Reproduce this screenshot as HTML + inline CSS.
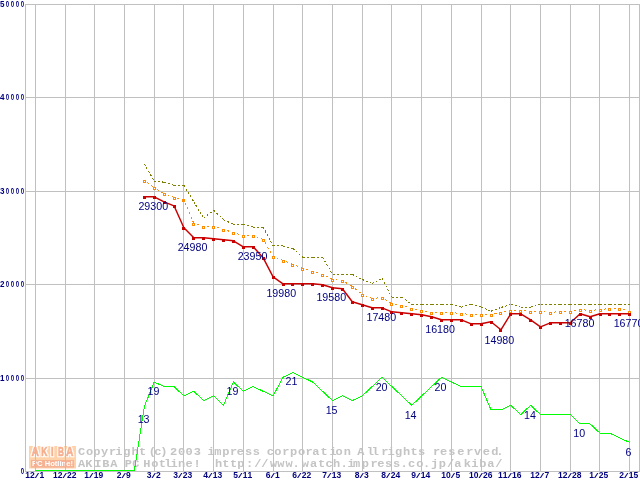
<!DOCTYPE html><html><head><meta charset="utf-8"><title>chart</title><style>html,body{margin:0;padding:0;background:#fff}svg{display:block}</style></head><body>
<svg width="640" height="480" viewBox="0 0 640 480">
<rect width="640" height="480" fill="#fff"/>
<g id="logo">
<rect x="29" y="446" width="47" height="22.5" fill="#ffd2aa"/>
<rect x="31" y="460" width="43" height="7.6" fill="#f6b294"/>
<filter id="ol" x="-20%" y="-20%" width="140%" height="140%"><feMorphology in="SourceAlpha" operator="dilate" radius="1" result="d"/><feFlood flood-color="#fff"/><feComposite in2="d" operator="in" result="w"/><feMerge><feMergeNode in="w"/><feMergeNode in="SourceGraphic"/></feMerge></filter>
<g filter="url(#ol)" font-family="'Liberation Sans',sans-serif" font-weight="bold" font-size="13.6" fill="#f6ae8c" stroke="#f6ae8c" stroke-width="0.7" stroke-linejoin="miter">
<text x="31.6" y="456.4" textLength="7.4" lengthAdjust="spacingAndGlyphs">A</text>
<text x="41.2" y="456.4" textLength="6.2" lengthAdjust="spacingAndGlyphs">K</text>
<text x="50.9" y="456.4" textLength="2.6" lengthAdjust="spacingAndGlyphs">I</text>
<text x="57.9" y="456.4" textLength="5.9" lengthAdjust="spacingAndGlyphs">B</text>
<text x="66.1" y="456.4" textLength="7.4" lengthAdjust="spacingAndGlyphs">A</text>
</g>
<text x="32" y="466.3" font-family="'Liberation Sans',sans-serif" font-weight="bold" font-size="7" fill="#fff" textLength="41" lengthAdjust="spacingAndGlyphs">PC Hotline!</text>
</g>
<g transform="scale(1.2,1)" font-family="'Liberation Mono',monospace" font-weight="bold" font-size="10" fill="#c4c4c4">
<text x="65.08 71.62 77.78 84.12 90.91 96.00 102.78 109.66 115.91 124.00 128.62 133.50 141.62 148.41 154.66 161.45" y="454.8">Copyright(c)2003</text>
<text x="172.83 178.62 185.28 191.62 197.37 204.12 210.70" y="454.8">impress</text>
<text x="222.37 228.62 235.28 241.62 248.41 254.66 260.28 267.16 274.67 279.66 286.45" y="454.8">corporation</text>
<text x="297.78 305.58 309.75" y="454.8">All</text>
<text x="317.70 323.00 329.12 335.91 342.16 348.41" y="454.8">rights</text>
<text x="360.91 366.78 373.45 381.12 388.45 395.03 402.20 409.37 413.46" y="454.8">reserved.</text>
<text x="65.08 71.12 78.50 85.20 91.95" y="466.8">AKIBA</text>
<text x="103.95 110.28" y="466.8">PC</text>
<text x="119.45 126.03 132.28 136.83 142.00 148.41 154.66 161.33" y="466.8">Hotline!</text>
<text y="466.8"><tspan x="179.12 185.28 191.62 197.78">http</tspan><tspan x="205.08 211.95 217.78 224.95 231.12 237.99 243.67 251.53 258.28 265.07 271.32 277.57 283.67 289.50 294.24 301.53 308.82 314.45 320.78 327.57 333.67 340.07 346.87 352.42 359.08 365.62 372.45 378.62 386.53 392.62 399.45 406.12 412.62">://www.watch.impress.co.jp/akiba/</tspan></text>
</g>
<g fill="#c0c0c0" shape-rendering="crispEdges">
<rect x="25" y="4" width="1" height="468"/>
<rect x="639" y="4" width="1" height="468"/>
<rect x="35" y="4" width="1" height="468"/>
<rect x="65" y="4" width="1" height="468"/>
<rect x="94" y="4" width="1" height="468"/>
<rect x="124" y="4" width="1" height="468"/>
<rect x="154" y="4" width="1" height="468"/>
<rect x="183" y="4" width="1" height="468"/>
<rect x="213" y="4" width="1" height="468"/>
<rect x="243" y="4" width="1" height="468"/>
<rect x="273" y="4" width="1" height="468"/>
<rect x="302" y="4" width="1" height="468"/>
<rect x="332" y="4" width="1" height="468"/>
<rect x="362" y="4" width="1" height="468"/>
<rect x="391" y="4" width="1" height="468"/>
<rect x="421" y="4" width="1" height="468"/>
<rect x="451" y="4" width="1" height="468"/>
<rect x="481" y="4" width="1" height="468"/>
<rect x="510" y="4" width="1" height="468"/>
<rect x="540" y="4" width="1" height="468"/>
<rect x="570" y="4" width="1" height="468"/>
<rect x="599" y="4" width="1" height="468"/>
<rect x="629" y="4" width="1" height="468"/>
<rect x="25" y="4" width="615" height="1"/>
<rect x="25" y="97" width="615" height="1"/>
<rect x="25" y="191" width="615" height="1"/>
<rect x="25" y="284" width="615" height="1"/>
<rect x="25" y="378" width="615" height="1"/>
<rect x="25" y="471" width="615" height="1"/>
</g>
<polyline fill="none" stroke="#00ff00" stroke-width="1" shape-rendering="crispEdges" points="35.3,470.5 45.2,470.5 55.1,470.5 65.0,470.5 74.9,470.5 84.8,470.5 94.7,470.5 104.6,470.5 114.6,470.5 124.5,470.5 134.4,470.5 144.3,406.7 154.2,382.0 164.1,386.6 174.0,386.6 183.9,395.9 193.8,391.3 203.7,400.6 213.6,395.9 223.5,405.3 233.4,382.0 243.3,391.3 253.2,386.6 263.2,391.3 273.1,395.9 283.0,377.3 292.9,372.6 302.8,377.3 312.7,382.0 322.6,391.3 332.5,400.6 342.4,395.9 352.3,400.6 362.2,395.9 372.1,386.6 382.0,377.3 391.9,386.6 401.8,395.9 411.8,405.3 421.7,395.9 431.6,386.6 441.5,377.3 451.4,382.0 461.3,386.6 471.2,386.6 481.1,386.6 491.0,409.9 500.9,409.9 510.8,405.3 520.7,414.6 530.6,405.3 540.5,414.6 550.4,414.6 560.4,414.6 570.3,414.6 580.2,423.9 590.1,423.9 600.0,433.2 609.9,433.2 619.8,437.9 629.7,442.5"/>
<path fill="none" stroke="#808000" stroke-width="1" stroke-dasharray="2 2" shape-rendering="crispEdges" d="M144.3,164.1L154.2,181.0M154.2,181.0L164.1,182.2M164.1,182.2L174.0,185.4M174.0,185.4L183.9,185.4M183.9,185.4L193.8,201.8M193.8,201.8L203.7,218.1M203.7,218.1L213.6,210.2M213.6,210.2L223.5,219.6M223.5,219.6L233.4,224.3M233.4,224.3L243.3,224.3M243.3,224.3L253.2,227.1M253.2,227.1L263.2,227.1M263.2,227.1L273.1,245.9M273.1,245.9L283.0,245.9M283.0,245.9L292.9,248.5M292.9,248.5L302.8,257.2M302.8,257.2L312.7,257.2M312.7,257.2L322.6,257.2M322.6,257.2L332.5,274.4M332.5,274.4L342.4,274.4M342.4,274.4L352.3,274.4M352.3,274.4L362.2,279.5M362.2,279.5L372.1,283.4M372.1,283.4L382.0,278.5M382.0,278.5L391.9,297.2M391.9,297.2L401.8,297.2M401.8,297.2L411.8,304.4M411.8,304.4L421.7,304.4M421.7,304.4L431.6,304.4M431.6,304.4L441.5,304.4M441.5,304.4L451.4,304.4M451.4,304.4L461.3,307.1M461.3,307.1L471.2,304.4M471.2,304.4L481.1,307.1M481.1,307.1L491.0,311.2M491.0,311.2L500.9,307.5M500.9,307.5L510.8,304.4M510.8,304.4L520.7,307.1M520.7,307.1L530.6,307.1M530.6,307.1L540.5,304.4M540.5,304.4L550.4,304.4M550.4,304.4L560.4,304.4M560.4,304.4L570.3,304.4M570.3,304.4L580.2,304.4M580.2,304.4L590.1,304.4M590.1,304.4L600.0,304.4M600.0,304.4L609.9,304.4M609.9,304.4L619.8,304.4M619.8,304.4L629.7,304.4"/>
<path fill="none" stroke="#ff8c00" stroke-width="1" stroke-dasharray="2 3" stroke-dashoffset="1.4" shape-rendering="crispEdges" d="M144.3,180.5L154.2,187.5M154.2,187.5L164.1,193.5M164.1,193.5L174.0,197.5M174.0,197.5L183.9,199.5M183.9,199.5L193.8,223.5M193.8,223.5L203.7,226.5M203.7,226.5L213.6,226.5M213.6,226.5L223.5,229.5M223.5,229.5L233.4,232.5M233.4,232.5L243.3,235.5M243.3,235.5L253.2,235.5M253.2,235.5L263.2,239.5M263.2,239.5L273.1,256.5M273.1,256.5L283.0,260.5M283.0,260.5L292.9,264.5M292.9,264.5L302.8,268.5M302.8,268.5L312.7,271.5M312.7,271.5L322.6,274.5M322.6,274.5L332.5,279.5M332.5,279.5L342.4,280.5M342.4,280.5L352.3,286.5M352.3,286.5L362.2,294.5M362.2,294.5L372.1,298.5M372.1,298.5L382.0,297.5M382.0,297.5L391.9,303.5M391.9,303.5L401.8,305.5M401.8,305.5L411.8,308.5M411.8,308.5L421.7,310.5M421.7,310.5L431.6,312.5M431.6,312.5L441.5,312.5M441.5,312.5L451.4,312.5M451.4,312.5L461.3,313.5M461.3,313.5L471.2,314.5M471.2,314.5L481.1,314.5M481.1,314.5L491.0,314.5M491.0,314.5L500.9,312.5M500.9,312.5L510.8,310.5M510.8,310.5L520.7,310.5M520.7,310.5L530.6,311.5M530.6,311.5L540.5,311.5M540.5,311.5L550.4,312.5M550.4,312.5L560.4,311.5M560.4,311.5L570.3,311.5M570.3,311.5L580.2,309.5M580.2,309.5L590.1,310.5M590.1,310.5L600.0,309.5M600.0,309.5L609.9,308.5M609.9,308.5L619.8,308.5M619.8,308.5L629.7,311.5"/>
<g fill="#fff" stroke="#ff8c00" stroke-width="1" shape-rendering="crispEdges">
<rect x="143.5" y="180.5" width="2" height="2"/>
<rect x="153.5" y="187.5" width="2" height="2"/>
<rect x="163.5" y="193.5" width="2" height="2"/>
<rect x="173.5" y="197.5" width="2" height="2"/>
<rect x="182.5" y="199.5" width="2" height="2" fill="#ff8c00"/>
<rect x="192.5" y="223.5" width="2" height="2"/>
<rect x="202.5" y="226.5" width="2" height="2"/>
<rect x="212.5" y="226.5" width="2" height="2"/>
<rect x="222.5" y="229.5" width="2" height="2"/>
<rect x="232.5" y="232.5" width="2" height="2"/>
<rect x="242.5" y="235.5" width="2" height="2"/>
<rect x="252.5" y="235.5" width="2" height="2"/>
<rect x="262.5" y="239.5" width="2" height="2"/>
<rect x="272.5" y="256.5" width="2" height="2"/>
<rect x="282.5" y="260.5" width="2" height="2"/>
<rect x="291.5" y="264.5" width="2" height="2"/>
<rect x="301.5" y="268.5" width="2" height="2"/>
<rect x="311.5" y="271.5" width="2" height="2"/>
<rect x="321.5" y="274.5" width="2" height="2"/>
<rect x="331.5" y="279.5" width="2" height="2"/>
<rect x="341.5" y="280.5" width="2" height="2"/>
<rect x="351.5" y="286.5" width="2" height="2"/>
<rect x="361.5" y="294.5" width="2" height="2"/>
<rect x="371.5" y="298.5" width="2" height="2"/>
<rect x="381.5" y="297.5" width="2" height="2"/>
<rect x="390.5" y="303.5" width="2" height="2"/>
<rect x="400.5" y="305.5" width="2" height="2"/>
<rect x="410.5" y="308.5" width="2" height="2"/>
<rect x="420.5" y="310.5" width="2" height="2"/>
<rect x="430.5" y="312.5" width="2" height="2"/>
<rect x="440.5" y="312.5" width="2" height="2"/>
<rect x="450.5" y="312.5" width="2" height="2"/>
<rect x="460.5" y="313.5" width="2" height="2"/>
<rect x="470.5" y="314.5" width="2" height="2"/>
<rect x="480.5" y="314.5" width="2" height="2"/>
<rect x="490.5" y="314.5" width="2" height="2"/>
<rect x="499.5" y="312.5" width="2" height="2"/>
<rect x="509.5" y="310.5" width="2" height="2"/>
<rect x="519.5" y="310.5" width="2" height="2"/>
<rect x="529.5" y="311.5" width="2" height="2"/>
<rect x="539.5" y="311.5" width="2" height="2"/>
<rect x="549.5" y="312.5" width="2" height="2"/>
<rect x="559.5" y="311.5" width="2" height="2"/>
<rect x="569.5" y="311.5" width="2" height="2"/>
<rect x="579.5" y="309.5" width="2" height="2"/>
<rect x="589.5" y="310.5" width="2" height="2"/>
<rect x="599.5" y="309.5" width="2" height="2"/>
<rect x="608.5" y="308.5" width="2" height="2"/>
<rect x="618.5" y="308.5" width="2" height="2"/>
<rect x="628.5" y="311.5" width="2" height="2"/>
</g>
<polyline fill="none" stroke="#c80000" stroke-width="1.45" stroke-linejoin="round" points="144.3,196.8 154.2,196.8 164.1,201.8 174.0,205.8 183.9,227.8 193.8,237.8 203.7,237.8 213.6,238.8 223.5,239.8 233.4,240.8 243.3,246.8 253.2,246.8 263.2,257.8 273.1,276.8 283.0,283.8 292.9,283.8 302.8,283.8 312.7,283.8 322.6,284.8 332.5,287.8 342.4,288.8 352.3,301.8 362.2,304.8 372.1,307.8 382.0,307.8 391.9,311.8 401.8,312.8 411.8,313.8 421.7,314.8 431.6,316.8 441.5,319.8 451.4,319.8 461.3,319.8 471.2,323.8 481.1,323.8 491.0,321.8 500.9,329.8 510.8,313.8 520.7,313.8 530.6,319.8 540.5,326.8 550.4,322.8 560.4,322.8 570.3,322.8 580.2,313.8 590.1,316.8 600.0,313.8 609.9,313.8 619.8,313.8 629.7,313.8"/>
<g fill="#c80000" shape-rendering="crispEdges">
<rect x="143" y="196" width="3" height="3"/>
<rect x="153" y="196" width="3" height="3"/>
<rect x="163" y="201" width="3" height="3"/>
<rect x="173" y="205" width="3" height="3"/>
<rect x="182" y="227" width="3" height="3"/>
<rect x="192" y="237" width="3" height="3"/>
<rect x="202" y="237" width="3" height="3"/>
<rect x="212" y="238" width="3" height="3"/>
<rect x="222" y="239" width="3" height="3"/>
<rect x="232" y="240" width="3" height="3"/>
<rect x="242" y="246" width="3" height="3"/>
<rect x="252" y="246" width="3" height="3"/>
<rect x="262" y="257" width="3" height="3"/>
<rect x="272" y="276" width="3" height="3"/>
<rect x="282" y="283" width="3" height="3"/>
<rect x="291" y="283" width="3" height="3"/>
<rect x="301" y="283" width="3" height="3"/>
<rect x="311" y="283" width="3" height="3"/>
<rect x="321" y="284" width="3" height="3"/>
<rect x="331" y="287" width="3" height="3"/>
<rect x="341" y="288" width="3" height="3"/>
<rect x="351" y="301" width="3" height="3"/>
<rect x="361" y="304" width="3" height="3"/>
<rect x="371" y="307" width="3" height="3"/>
<rect x="381" y="307" width="3" height="3"/>
<rect x="390" y="311" width="3" height="3"/>
<rect x="400" y="312" width="3" height="3"/>
<rect x="410" y="313" width="3" height="3"/>
<rect x="420" y="314" width="3" height="3"/>
<rect x="430" y="316" width="3" height="3"/>
<rect x="440" y="319" width="3" height="3"/>
<rect x="450" y="319" width="3" height="3"/>
<rect x="460" y="319" width="3" height="3"/>
<rect x="470" y="323" width="3" height="3"/>
<rect x="480" y="323" width="3" height="3"/>
<rect x="490" y="321" width="3" height="3"/>
<rect x="499" y="329" width="3" height="3"/>
<rect x="509" y="313" width="3" height="3"/>
<rect x="519" y="313" width="3" height="3"/>
<rect x="529" y="319" width="3" height="3"/>
<rect x="539" y="326" width="3" height="3"/>
<rect x="549" y="322" width="3" height="3"/>
<rect x="559" y="322" width="3" height="3"/>
<rect x="569" y="322" width="3" height="3"/>
<rect x="579" y="313" width="3" height="3"/>
<rect x="589" y="316" width="3" height="3"/>
<rect x="599" y="313" width="3" height="3"/>
<rect x="608" y="313" width="3" height="3"/>
<rect x="618" y="313" width="3" height="3"/>
<rect x="628" y="313" width="3" height="3"/>
</g>
<g font-family="'Liberation Sans',sans-serif" font-size="10.67" fill="#000080" text-anchor="middle">
<text x="153.25" y="209.75">29300</text>
<text x="192.5" y="251">24980</text>
<text x="252.5" y="259.5">23950</text>
<text x="281.25" y="297.1">19980</text>
<text x="331.25" y="300.7">19580</text>
<text x="381.3" y="320.9">17480</text>
<text x="440.1" y="332.9">16180</text>
<text x="499.4" y="343.7">14980</text>
<text x="579.5" y="326.8">16780</text>
<text x="628.5" y="326.8">16770</text>
<text x="143.6" y="422.5">13</text>
<text x="153.4" y="394.5">19</text>
<text x="232.4" y="394.5">19</text>
<text x="291.5" y="385.25">21</text>
<text x="331.6" y="413.75">15</text>
<text x="381.6" y="390.5">20</text>
<text x="410.6" y="418.75">14</text>
<text x="440.4" y="390.5">20</text>
<text x="529.9" y="418.75">14</text>
<text x="579.3" y="436.7">10</text>
<text x="628.5" y="455.5">6</text>
</g>
<g font-family="'Liberation Sans',sans-serif" font-weight="bold" font-size="8.5" fill="#000080">
<text transform="translate(0.1,7) scale(0.95,1)">5</text>
<text transform="translate(0,7) scale(0.7,1)" x="8.29 15.43 22.57 29.71">0000</text>
<text transform="translate(0.1,100) scale(0.95,1)">4</text>
<text transform="translate(0,100) scale(0.7,1)" x="8.29 15.43 22.57 29.71">0000</text>
<text transform="translate(0.1,194) scale(0.95,1)">3</text>
<text transform="translate(0,194) scale(0.7,1)" x="8.29 15.43 22.57 29.71">0000</text>
<text transform="translate(0.1,287) scale(0.95,1)">2</text>
<text transform="translate(0,287) scale(0.7,1)" x="8.29 15.43 22.57 29.71">0000</text>
<text transform="translate(0.1,381) scale(0.95,1)">1</text>
<text transform="translate(0,381) scale(0.7,1)" x="8.29 15.43 22.57 29.71">0000</text>
<text transform="translate(20.8,474) scale(0.7,1)">0</text>
</g>
<g font-family="'Liberation Sans',sans-serif" font-weight="bold" font-size="8.5" fill="#000080">
<text y="478"><tspan x="25.30 30.00">12</tspan><tspan x="34.80" font-size="7.3" font-weight="normal" textLength="4.4" lengthAdjust="spacingAndGlyphs">/</tspan><tspan x="39.40">1</tspan></text>
<text y="478"><tspan x="52.95 57.65">12</tspan><tspan x="62.45" font-size="7.3" font-weight="normal" textLength="4.4" lengthAdjust="spacingAndGlyphs">/</tspan><tspan x="67.05 71.75">22</tspan></text>
<text y="478"><tspan x="84.30">1</tspan><tspan x="89.10" font-size="7.3" font-weight="normal" textLength="4.4" lengthAdjust="spacingAndGlyphs">/</tspan><tspan x="93.70 98.40">19</tspan></text>
<text y="478"><tspan x="116.65">2</tspan><tspan x="121.45" font-size="7.3" font-weight="normal" textLength="4.4" lengthAdjust="spacingAndGlyphs">/</tspan><tspan x="126.05">9</tspan></text>
<text y="478"><tspan x="146.65">3</tspan><tspan x="151.45" font-size="7.3" font-weight="normal" textLength="4.4" lengthAdjust="spacingAndGlyphs">/</tspan><tspan x="156.05">2</tspan></text>
<text y="478"><tspan x="173.30">3</tspan><tspan x="178.10" font-size="7.3" font-weight="normal" textLength="4.4" lengthAdjust="spacingAndGlyphs">/</tspan><tspan x="182.70 187.40">23</tspan></text>
<text y="478"><tspan x="203.30">4</tspan><tspan x="208.10" font-size="7.3" font-weight="normal" textLength="4.4" lengthAdjust="spacingAndGlyphs">/</tspan><tspan x="212.70 217.40">13</tspan></text>
<text y="478"><tspan x="233.30">5</tspan><tspan x="238.10" font-size="7.3" font-weight="normal" textLength="4.4" lengthAdjust="spacingAndGlyphs">/</tspan><tspan x="242.70 247.40">11</tspan></text>
<text y="478"><tspan x="265.65">6</tspan><tspan x="270.45" font-size="7.3" font-weight="normal" textLength="4.4" lengthAdjust="spacingAndGlyphs">/</tspan><tspan x="275.05">1</tspan></text>
<text y="478"><tspan x="292.30">6</tspan><tspan x="297.10" font-size="7.3" font-weight="normal" textLength="4.4" lengthAdjust="spacingAndGlyphs">/</tspan><tspan x="301.70 306.40">22</tspan></text>
<text y="478"><tspan x="322.30">7</tspan><tspan x="327.10" font-size="7.3" font-weight="normal" textLength="4.4" lengthAdjust="spacingAndGlyphs">/</tspan><tspan x="331.70 336.40">13</tspan></text>
<text y="478"><tspan x="354.65">8</tspan><tspan x="359.45" font-size="7.3" font-weight="normal" textLength="4.4" lengthAdjust="spacingAndGlyphs">/</tspan><tspan x="364.05">3</tspan></text>
<text y="478"><tspan x="381.30">8</tspan><tspan x="386.10" font-size="7.3" font-weight="normal" textLength="4.4" lengthAdjust="spacingAndGlyphs">/</tspan><tspan x="390.70 395.40">24</tspan></text>
<text y="478"><tspan x="411.30">9</tspan><tspan x="416.10" font-size="7.3" font-weight="normal" textLength="4.4" lengthAdjust="spacingAndGlyphs">/</tspan><tspan x="420.70 425.40">14</tspan></text>
<text y="478"><tspan x="441.30 446.00">10</tspan><tspan x="450.80" font-size="7.3" font-weight="normal" textLength="4.4" lengthAdjust="spacingAndGlyphs">/</tspan><tspan x="455.40">5</tspan></text>
<text y="478"><tspan x="468.95 473.65">10</tspan><tspan x="478.45" font-size="7.3" font-weight="normal" textLength="4.4" lengthAdjust="spacingAndGlyphs">/</tspan><tspan x="483.05 487.75">26</tspan></text>
<text y="478"><tspan x="497.95 502.65">11</tspan><tspan x="507.45" font-size="7.3" font-weight="normal" textLength="4.4" lengthAdjust="spacingAndGlyphs">/</tspan><tspan x="512.05 516.75">16</tspan></text>
<text y="478"><tspan x="530.30 535.00">12</tspan><tspan x="539.80" font-size="7.3" font-weight="normal" textLength="4.4" lengthAdjust="spacingAndGlyphs">/</tspan><tspan x="544.40">7</tspan></text>
<text y="478"><tspan x="557.95 562.65">12</tspan><tspan x="567.45" font-size="7.3" font-weight="normal" textLength="4.4" lengthAdjust="spacingAndGlyphs">/</tspan><tspan x="572.05 576.75">28</tspan></text>
<text y="478"><tspan x="589.30">1</tspan><tspan x="594.10" font-size="7.3" font-weight="normal" textLength="4.4" lengthAdjust="spacingAndGlyphs">/</tspan><tspan x="598.70 603.40">25</tspan></text>
<text y="478"><tspan x="619.30">2</tspan><tspan x="624.10" font-size="7.3" font-weight="normal" textLength="4.4" lengthAdjust="spacingAndGlyphs">/</tspan><tspan x="628.70 633.40">15</tspan></text>
</g>
</svg></body></html>
